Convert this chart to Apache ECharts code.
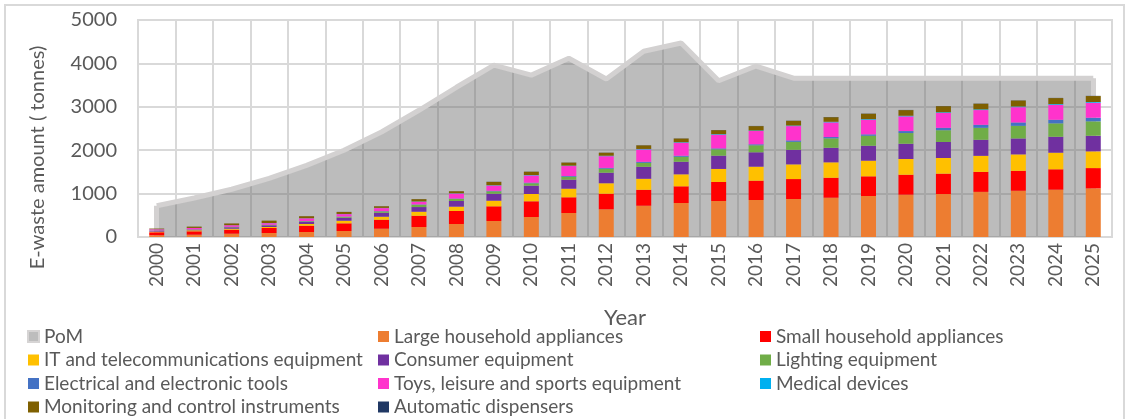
<!DOCTYPE html>
<html>
<head>
<meta charset="utf-8">
<script src="https://cdn.jsdelivr.net/npm/echarts@6/dist/echarts.min.js"></script>
<style>
  html, body { margin: 0; padding: 0; background: #fff; }
  #chart { width: 1130px; height: 419px; }
</style>
</head>
<body>
<div id="chart"></div>
<script>
// 年份
const years = ['2000','2001','2002','2003','2004','2005','2006','2007','2008','2009','2010','2011','2012',
  '2013','2014','2015','2016','2017','2018','2019','2020','2021','2022','2023','2024','2025']
const yTicks = [0, 1000, 2000, 3000, 4000, 5000]

// PoM (面积)
const pom = [720, 900, 1100, 1350, 1650, 2000, 2420, 2920, 3450, 3960, 3730, 4120, 3640,
  4280, 4470, 3600, 3940, 3660, 3660, 3660, 3660, 3660, 3660, 3660, 3660, 3660]

// 堆叠柱子
const large = [40, 53, 76, 92, 115, 138, 191, 230, 300, 369, 461, 553, 638, 720, 783, 830, 853, 875, 905, 945, 975, 990, 1040, 1065, 1090, 1120]
const small = [69, 78, 92, 115, 145, 177, 207, 260, 300, 338, 362, 362, 360, 368, 385, 438, 445, 460, 460, 453, 460, 470, 460, 460, 470, 468]
const itTelecom = [15, 23, 23, 23, 39, 60, 69, 92, 99, 129, 168, 198, 240, 253, 276, 300, 322, 338, 355, 360, 362, 360, 370, 378, 382, 385]
const consumer = [23, 15, 32, 39, 53, 69, 92, 108, 131, 161, 191, 207, 244, 276, 290, 306, 332, 336, 336, 345, 352, 370, 370, 368, 368, 360]
const lighting = [5, 6, 8, 10, 12, 23, 32, 53, 46, 55, 55, 69, 92, 92, 115, 147, 161, 184, 217, 230, 246, 270, 276, 290, 308, 332]
const tools = [2, 2, 3, 3, 4, 5, 6, 8, 10, 12, 14, 16, 18, 23, 23, 20, 23, 32, 30, 32, 46, 55, 69, 78, 83, 83]
const toys = [23, 30, 37, 37, 62, 55, 69, 62, 115, 122, 168, 230, 270, 285, 300, 316, 306, 330, 338, 336, 338, 345, 340, 352, 345, 345]
const medical = [2, 2, 2, 3, 3, 4, 5, 6, 7, 8, 9, 10, 11, 12, 12, 13, 13, 14, 14, 15, 15, 15, 16, 16, 17, 17]
const monitoring = [15, 30, 39, 55, 46, 46, 37, 53, 46, 76, 76, 69, 69, 83, 85, 92, 100, 108, 106, 124, 130, 140, 130, 138, 138, 138]
const dispensers = [1, 1, 1, 1, 1, 2, 2, 2, 2, 3, 3, 3, 3, 3, 3, 4, 4, 4, 4, 4, 4, 4, 4, 4, 4, 4]

const barSeries = [
  ['Large household appliances', large, '#ED7D31'],
  ['Small household appliances', small, '#FF0000'],
  ['IT and telecommunications equipment', itTelecom, '#FFC000'],
  ['Consumer equipment', consumer, '#7030A0'],
  ['Lighting equipment', lighting, '#70AD47'],
  ['Electrical and electronic tools', tools, '#4472C4'],
  ['Toys, leisure and sports equipment', toys, '#FF33CC'],
  ['Medical devices', medical, '#00B0F0'],
  ['Monitoring and control instruments', monitoring, '#7F6000'],
  ['Automatic dispensers', dispensers, '#203864']
]

const font = 'Lato, "Open Sans", sans-serif'
const textColor = '#595959'
const legendBase = {
  orient: 'vertical',
  top: 327,
  padding: 0,
  height: 92,
  itemWidth: 11,
  itemHeight: 11,
  itemGap: 4.5,
  icon: 'rect',
  selectedMode: false,
  textStyle: { fontFamily: font, fontSize: 19, color: textColor, lineHeight: 18 }
}

// PoM 两端的竖边
const last = years.length - 1
const pomEdges = [
  [{ coord: [years[0], 0] }, { coord: [years[0], pom[0]] }],
  [{ coord: [years[last], 0] }, { coord: [years[last], pom[last]] }]
]

let myChart = echarts.init(document.getElementById('chart'))
var option = {
  animation: false,
  graphic: [{
    type: 'rect',
    shape: { x: 5, y: 5, width: 1119, height: 430 },
    style: { fill: 'none', stroke: '#d9d9d9', lineWidth: 2 },
    silent: true
  }],
  legend: [
    Object.assign({}, legendBase, {
      left: 27,
      data: [
        { name: 'PoM', itemStyle: { color: '#bdbdbd', borderColor: '#d6d4d4', borderWidth: 2 } },
        'IT and telecommunications equipment', 'Electrical and electronic tools', 'Monitoring and control instruments'
      ]
    }),
    Object.assign({}, legendBase, {
      left: 378,
      data: ['Large household appliances', 'Consumer equipment', 'Toys, leisure and sports equipment', 'Automatic dispensers']
    }),
    Object.assign({}, legendBase, {
      left: 760,
      data: ['Small household appliances', 'Lighting equipment', 'Medical devices']
    })
  ],
  grid: {
    left: 138,
    right: 18,
    top: 20,
    bottom: 182,
    show: true,
    borderColor: '#d9d9d9',
    borderWidth: 2
  },
  xAxis: {
    type: 'category',
    data: years,
    name: 'Year',
    nameLocation: 'middle',
    nameGap: 70,
    nameTextStyle: { fontFamily: font, fontSize: 22, color: textColor },
    axisLine: { lineStyle: { color: '#d9d9d9', width: 2 } },
    axisTick: { show: false },
    axisLabel: { rotate: 90, interval: 0, margin: 6, fontFamily: font, fontSize: 19, color: textColor },
    splitLine: { show: true, interval: 0, lineStyle: { color: '#d9d9d9', width: 2 } }
  },
  yAxis: {
    type: 'value',
    min: yTicks[0],
    max: yTicks[yTicks.length - 1],
    interval: 1000,
    name: 'E-waste amount ( tonnes)',
    nameLocation: 'middle',
    nameGap: 90,
    nameTextStyle: { fontFamily: font, fontSize: 20, color: textColor, padding: [0, 58, 0, 0] },
    axisLine: { show: false },
    axisTick: { show: false },
    axisLabel: { margin: 21, fontFamily: font, fontSize: 20, color: textColor, formatter: v => String(v) },
    splitLine: { lineStyle: { color: '#d9d9d9', width: 2 } }
  },
  series: [{
    name: 'PoM',
    type: 'line',
    data: pom,
    symbol: 'none',
    z: 1,
    lineStyle: { color: '#d3d1d1', width: 5 },
    itemStyle: { color: '#bdbdbd' },
    areaStyle: { color: 'rgb(107,107,107)', opacity: 0.45 },
    markLine: {
      silent: true,
      z: 2,
      symbol: 'none',
      label: { show: false },
      lineStyle: { color: '#d3d1d1', width: 5, type: 'solid' },
      data: pomEdges
    }
  }].concat(barSeries.map(([name, data, color]) => ({
    name: name,
    type: 'bar',
    stack: 'ewaste',
    barWidth: 15,
    z: 3,
    itemStyle: { color: color },
    data: data
  })))
}
myChart.setOption(option)
</script>
</body>
</html>
